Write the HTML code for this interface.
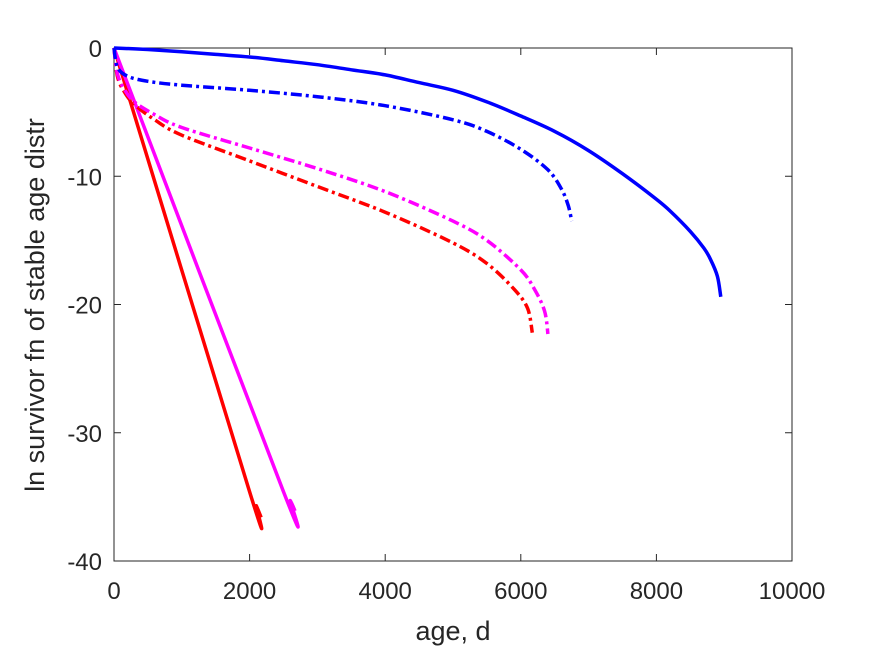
<!DOCTYPE html>
<html><head><meta charset="utf-8"><style>
body{margin:0;background:#fff;}
svg{display:block;font-family:"Liberation Sans",sans-serif;}
</style></head><body>
<svg id="chart" width="875" height="656" viewBox="0 0 875 656">
<rect width="875" height="656" fill="#fff"/>
<g id="axes"></g>
<g id="series"></g>
<text x="453" y="640" font-size="27" fill="#262626" text-anchor="middle">age, d</text>
<text transform="translate(44,305) rotate(-90)" font-size="27" fill="#262626" text-anchor="middle">ln survivor fn of stable age distr</text>
</svg>
<script>
const xTicks=[0,2000,4000,6000,8000,10000];
const yTicks=[0,-10,-20,-30,-40];
const blueSolidX=[0,500,1000,1500,2000,2500,3000,3500,4000,4500,5000,5500,6000,6500,7000,7500,8000,8200,8500,8700,8800,8900,8950];
const blueSolidY=[0,-0.12,-0.3,-0.5,-0.7,-1.0,-1.3,-1.7,-2.1,-2.7,-3.3,-4.2,-5.3,-6.5,-8,-9.8,-11.8,-12.7,-14.3,-15.6,-16.5,-17.8,-19.4];
const blueDashX=[0,50,200,500,1000,2000,3000,4000,5000,5500,6000,6400,6600,6700,6750];
const blueDashY=[0,-1.5,-2.2,-2.6,-2.9,-3.3,-3.8,-4.5,-5.6,-6.5,-7.9,-9.5,-11,-12.3,-13.5];
const magDashX=[0,50,150,300,600,1000,2000,3000,4000,5000,5500,6000,6200,6350,6400];
const magDashY=[0,-2,-3.2,-4.2,-5.2,-6.2,-7.8,-9.4,-11.2,-13.5,-15,-17.3,-18.8,-20.5,-22.3];
const redDashX=[0,50,150,300,600,1000,2000,3000,4000,5000,5500,5900,6100,6170];
const redDashY=[0,-2.2,-3.4,-4.4,-5.6,-6.8,-8.8,-10.8,-12.8,-15.2,-16.8,-18.8,-20.3,-22.2];
const redSolidX=[0,2000,2100,2170];
const redSolidY=[0,-34.6,-35.7,-36.6];
const magSolidX=[0,2500,2600,2670];
const magSolidY=[0,-34.6,-35.3,-36.1];
const L=114,R=792,T=48,B=561;
const sx=v=>L+(v-0)/10000*(R-L);
const sy=v=>T+(0-v)/40*(B-T);
const NS="http://www.w3.org/2000/svg";
function mk(tag,attrs,parent){const e=document.createElementNS(NS,tag);for(const k in attrs)e.setAttribute(k,attrs[k]);parent.appendChild(e);return e;}
const ax=document.getElementById('axes');
const box=mk('rect',{x:L,y:T,width:R-L,height:B-T,fill:'none',stroke:'#262626','stroke-width':1},ax);


xTicks.forEach(v=>{
 const x=sx(v);
 mk('line',{x1:x,x2:x,y1:B,y2:B-7,stroke:'#262626'},ax);
 mk('line',{x1:x,x2:x,y1:T,y2:T+7,stroke:'#262626'},ax);
 const t=mk('text',{x:x,y:B+38,'font-size':24,fill:'#262626','text-anchor':'middle'},ax);
 t.textContent=v;
 
 
});
yTicks.forEach(v=>{
 const y=sy(v);
 mk('line',{x1:L,x2:L+7,y1:y,y2:y,stroke:'#262626'},ax);
 mk('line',{x1:R,x2:R-7,y1:y,y2:y,stroke:'#262626'},ax);
 const t=mk('text',{x:L-12,y:y+9,'font-size':24,fill:'#262626','text-anchor':'end'},ax);
 t.textContent=v;
 
 
});
const sg=document.getElementById('series');
function line(xs,ys,color,dash,name){
 const P=xs.map((x,i)=>[sx(x),sy(ys[i])]);
 let d='M'+P[0][0].toFixed(1)+','+P[0][1].toFixed(1);
 for(let i=0;i<P.length-1;i++){
  const p0=P[Math.max(0,i-1)],p1=P[i],p2=P[i+1],p3=P[Math.min(P.length-1,i+2)];
  const c1=[p1[0]+(p2[0]-p0[0])/6,p1[1]+(p2[1]-p0[1])/6];
  const c2=[p2[0]-(p3[0]-p1[0])/6,p2[1]-(p3[1]-p1[1])/6];
  d+=' C'+c1.map(v=>v.toFixed(1)).join(',')+' '+c2.map(v=>v.toFixed(1)).join(',')+' '+p2.map(v=>v.toFixed(1)).join(',');
 }
 const p=mk('path',{d:d,fill:'none',stroke:color,'stroke-width':3.5,'stroke-linejoin':'round'},sg);
 if(dash)p.setAttribute('stroke-dasharray','11,4,3,4');
 
 
}
line(redSolidX,redSolidY,'#ff0000',false,'red-solid-line');
line(magSolidX,magSolidY,'#ff00ff',false,'magenta-solid-line');
line(redDashX,redDashY,'#ff0000',true,'red-dashdot-line');
line(magDashX,magDashY,'#ff00ff',true,'magenta-dashdot-line');
line(blueDashX,blueDashY,'#0000ff',true,'blue-dashdot-line');
line(blueSolidX,blueSolidY,'#0000ff',false,'blue-solid-line');
</script>
</body></html>
